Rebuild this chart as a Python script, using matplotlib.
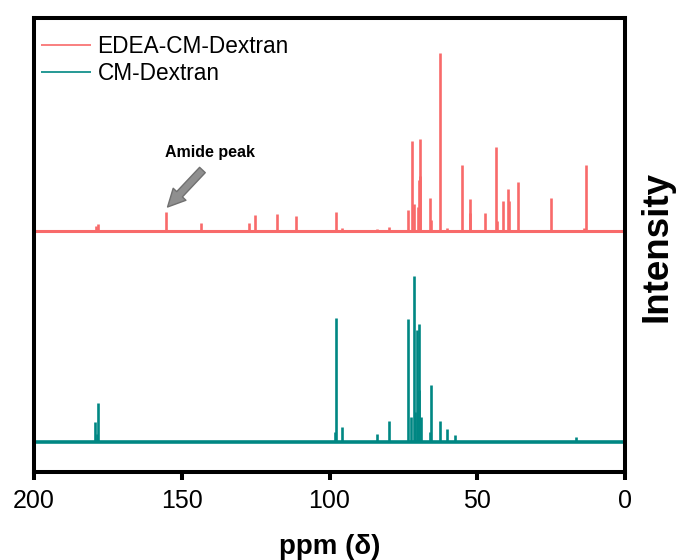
import matplotlib
matplotlib.use("Agg")
import matplotlib.pyplot as plt

# ---- data (ppm, relative intensity in arbitrary units) ----
edea_ppm = [179.0, 178.3, 155.3, 143.4, 127.4, 125.2, 117.9, 111.5, 97.9, 95.9,
            83.8, 80.0, 73.4, 72.1, 71.5, 70.1, 69.7, 69.5, 69.3, 66.1, 65.5,
            62.6, 60.2, 55.2, 52.5, 52.3, 47.3, 43.6, 43.3, 41.3, 39.5, 39.1,
            36.2, 25.2, 14.0, 13.3]
edea_int = [5, 7, 19, 8, 8, 16, 17, 15, 19, 3,
            2, 4, 21, 90, 27, 24, 51, 92, 55, 33, 11,
            178, 3, 66, 18, 32, 18, 84, 10, 30, 42, 30,
            49, 33, 3, 66]

cm_ppm = [179.4, 178.6, 178.2, 98.3, 97.9, 95.9, 83.8, 79.8, 73.4, 72.4,
          71.4, 71.2, 70.3, 69.8, 69.6, 69.0, 66.1, 65.5, 62.5, 60.4, 57.4, 16.6]
cm_int = [20, 8, 39, 10, 124, 15, 8, 21, 123, 25,
          166, 30, 112, 52, 118, 25, 10, 57, 21, 13, 7, 5]

series_labels = ["EDEA-CM-Dextran", "CM-Dextran"]
edea_offset = 211
cm_offset = 0
x_ticks = [200, 150, 100, 50, 0]

red = "#F86A6A"
teal = "#008783"

fig = plt.figure(figsize=(6.81, 5.60), dpi=100)
ax = fig.add_axes([34/681, 1-472/560, (625-34)/681, (472-18)/560])

# baselines
ax.plot([200, 0], [edea_offset, edea_offset], color=red, lw=2.2,
        label=series_labels[0], solid_capstyle="butt")
ax.plot([200, 0], [cm_offset, cm_offset], color=teal, lw=2.6,
        label=series_labels[1], solid_capstyle="butt")
# peaks
ax.vlines(edea_ppm, edea_offset, [edea_offset + v for v in edea_int],
          color=red, lw=1.9)
ax.vlines(cm_ppm, cm_offset, [cm_offset + v for v in cm_int],
          color=teal, lw=1.9)

ax.set_xlim(200, 0)
ax.set_ylim(-30.5, 423.5)
ax.set_xticks(x_ticks)
ax.tick_params(axis="y", left=False, labelleft=False)
ax.tick_params(axis="x", direction="out", length=6, width=2.9, pad=6,
               labelsize=18)
for lab in ax.get_xticklabels():
    lab.set_family("Liberation Sans")
for sp in ax.spines.values():
    sp.set_linewidth(2.9)

ax.set_xlabel("ppm (δ)", fontsize=20, fontweight="bold",
              family=["Liberation Sans", "DejaVu Sans"])
ax.xaxis.set_label_coords(0.5, -0.137)

fig.text(657/681, 1-246/560, "Intensity", rotation=90, ha="center",
         va="center", fontsize=26.5, fontweight="bold", family="Liberation Sans")

leg = ax.legend(loc="upper left", bbox_to_anchor=(0.0, 0.978), frameon=False,
                prop={"family": "Liberation Sans", "size": 16.3},
                handlelength=2.2, handletextpad=0.3, labelspacing=0.2,
                borderaxespad=0, borderpad=0.3)
for ln in leg.get_lines():
    ln.set_linewidth(1.2)

# amide annotation
ax.annotate("", xy=(154.8, 234.5), xytext=(143.0, 271.5),
            arrowprops=dict(arrowstyle="simple,head_length=0.9,head_width=0.9,tail_width=0.4",
                            fc="#8f8f8f", ec="#707070", lw=1, shrinkA=0, shrinkB=0,
                            mutation_scale=14))
ax.text(140.6, 288.5, "Amide peak", ha="center", va="center", fontsize=11.5,
        fontweight="bold", family="Liberation Sans")

fig.savefig("out.png", dpi=100)
